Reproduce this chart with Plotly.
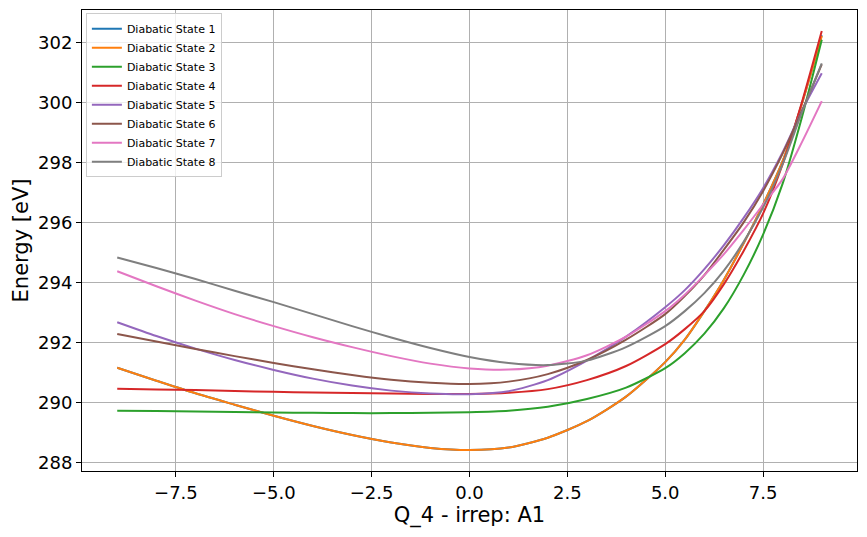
import plotly.graph_objects as go

q_values = [-9, -8, -7, -6, -5, -4, -3, -2, -1, 0, 1, 2, 3, 4, 5, 5.5, 6, 6.5, 7, 7.5, 8, 8.5, 9]

state_1 = [291.16, 290.73, 290.31, 289.93, 289.56, 289.22, 288.92, 288.67, 288.49, 288.42, 288.50, 288.83,
           289.38, 290.20, 291.35, 292.10, 293.05, 294.10, 295.30, 296.60, 298.05, 300.00, 302.25]
state_2 = [291.16, 290.73, 290.31, 289.93, 289.56, 289.22, 288.92, 288.67, 288.49, 288.42, 288.50, 288.83,
           289.38, 290.20, 291.35, 292.10, 293.05, 294.10, 295.30, 296.60, 298.05, 300.00, 302.22]
state_3 = [289.73, 289.72, 289.70, 289.69, 289.67, 289.66, 289.65, 289.65, 289.66, 289.68, 289.73, 289.86,
           290.12, 290.50, 291.15, 291.65, 292.30, 293.15, 294.25, 295.60, 297.30, 299.55, 302.10]
state_4 = [290.46, 290.44, 290.42, 290.39, 290.36, 290.34, 290.32, 290.30, 290.29, 290.29, 290.33, 290.45,
           290.75, 291.22, 291.95, 292.45, 293.05, 293.95, 295.05, 296.30, 297.95, 300.05, 302.39]
state_5 = [292.68, 292.22, 291.80, 291.42, 291.09, 290.80, 290.57, 290.40, 290.30, 290.28, 290.38, 290.75,
           291.40, 292.20, 293.18, 293.75, 294.45, 295.25, 296.15, 297.15, 298.35, 299.75, 300.98]
state_6 = [292.29, 292.04, 291.79, 291.55, 291.32, 291.11, 290.92, 290.76, 290.66, 290.62, 290.70, 290.95,
           291.42, 292.10, 292.95, 293.55, 294.25, 295.10, 296.00, 297.05, 298.30, 299.75, 301.28]
state_7 = [294.38, 293.88, 293.40, 292.95, 292.55, 292.18, 291.85, 291.55, 291.30, 291.14, 291.10, 291.23,
           291.58, 292.20, 293.05, 293.60, 294.25, 294.95, 295.75, 296.60, 297.45, 298.70, 300.05]
state_8 = [294.84, 294.49, 294.12, 293.73, 293.35, 292.95, 292.55, 292.17, 291.82, 291.52, 291.32, 291.25,
           291.40, 291.85, 292.55, 293.05, 293.65, 294.40, 295.35, 296.50, 297.95, 299.70, 301.31]

series_names = ["Diabatic State 1", "Diabatic State 2", "Diabatic State 3", "Diabatic State 4",
                "Diabatic State 5", "Diabatic State 6", "Diabatic State 7", "Diabatic State 8"]
series_values = [state_1, state_2, state_3, state_4, state_5, state_6, state_7, state_8]
colors = ["#1f77b4", "#ff7f0e", "#2ca02c", "#d62728", "#9467bd", "#8c564b", "#e377c2", "#7f7f7f"]

x_tick_vals = [-7.5, -5.0, -2.5, 0.0, 2.5, 5.0, 7.5]
x_tick_text = ["\u22127.5", "\u22125.0", "\u22122.5", "0.0", "2.5", "5.0", "7.5"]
y_tick_vals = [288, 290, 292, 294, 296, 298, 300, 302]

x_title = "Q_4 - irrep: A1"
y_title = "Energy [eV]"

fig = go.Figure()
for name, vals, col in zip(series_names, series_values, colors):
    fig.add_trace(go.Scatter(x=q_values, y=vals, mode="lines", name=name,
                             line=dict(color=col, width=2, shape="spline", smoothing=0.7)))

axis_common = dict(
    showgrid=True, gridcolor="#b0b0b0", gridwidth=1,
    showline=True, linecolor="black", linewidth=1, mirror=True,
    ticks="outside", ticklen=5, tickcolor="black", tickwidth=1,
    zeroline=False,
    tickfont=dict(family="DejaVu Sans", size=18, color="black"),
)

fig.update_layout(
    width=867, height=537,
    margin=dict(l=82, r=10, t=10, b=66),
    paper_bgcolor="white", plot_bgcolor="white",
    font=dict(family="DejaVu Sans", color="black"),
    xaxis=dict(range=[-9.9, 9.9], tickvals=x_tick_vals, ticktext=x_tick_text,
               title=dict(text=x_title, font=dict(size=21, family="DejaVu Sans"), standoff=4),
               **axis_common),
    yaxis=dict(range=[287.72, 303.09], tickvals=y_tick_vals,
               title=dict(text=y_title, font=dict(size=21, family="DejaVu Sans"), standoff=3),
               **axis_common),
    legend=dict(x=0.005, y=0.993, xanchor="left", yanchor="top",
                bgcolor="rgba(255,255,255,0.8)", bordercolor="#cccccc", borderwidth=1,
                font=dict(size=11, family="DejaVu Sans"), tracegroupgap=0, itemwidth=30),
    showlegend=True,
)

fig.write_html("out.html")
